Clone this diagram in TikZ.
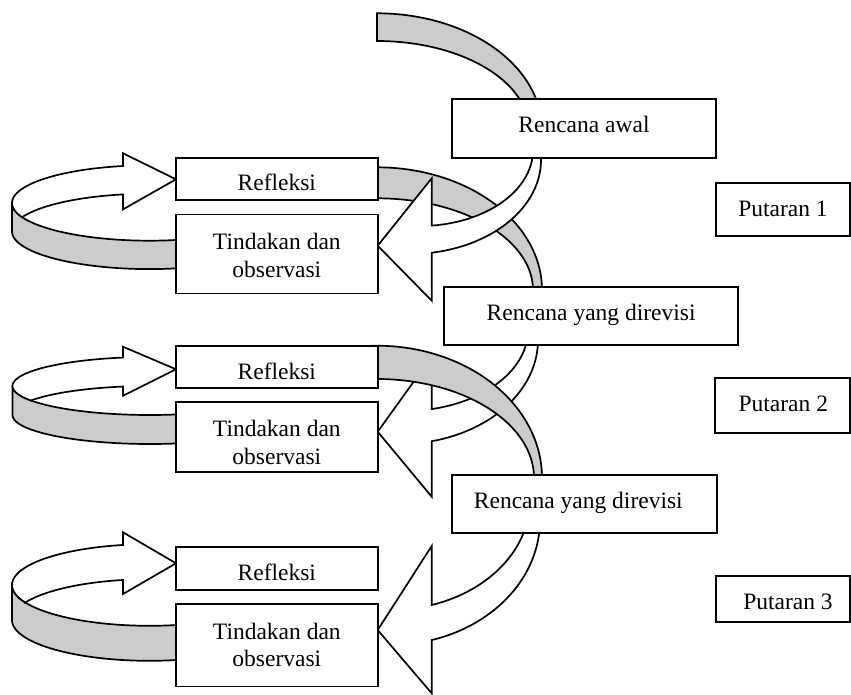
\documentclass[tikz,border=0pt]{standalone}
\usepackage{fontspec}
\setmainfont{Liberation Serif}
\definecolor{ribbon}{RGB}{204,204,204}
\begin{document}
\begin{tikzpicture}[x=1pt,y=-1pt,line width=1.7pt,samples=60,
  box/.style={draw,fill=white,inner sep=0pt},
  lbl/.style={anchor=base,inner sep=0pt,font=\fontsize{23.5}{27.6}\selectfont},
  lbltwo/.style={anchor=north,align=center,inner sep=0pt,font=\fontsize{23.5}{27.6}\selectfont},
  band/.style={draw,fill=ribbon},
  wband/.style={draw,fill=white}]
\useasboundingbox (0,0) rectangle (851,695);

% big grey bands
\path[band] plot[domain=270:355] ({377+165*cos(\x)},{130+116.7*sin(\x)})
  -- plot[domain=355:270] ({377+152*cos(\x)},{130+89*sin(\x)}) -- cycle;
\path[band] plot[domain=265:365] ({377+165*cos(\x)},{290+122.7*sin(\x)})
  -- plot[domain=365:265] ({377+156*cos(\x)},{290+91.7*sin(\x)}) -- cycle;
% white curved arrow 1
\path[wband] plot[domain=-5:80.47] ({410+131*cos(\x)},{160+94*sin(\x)})
  -- (431.7,300.7) -- (377.7,245.7) -- (431.7,178.3)
  -- plot[domain=84.06:0] ({420+113*cos(\x)},{150+76*sin(\x)}) -- cycle;
% white curved arrow 2
\path[wband] plot[domain=-5:76.72] ({400+138*cos(\x)},{340+104*sin(\x)})
  -- (431.7,496.7) -- (377.7,431.7) -- (431.7,356.6)
  -- plot[domain=77.46:0] ({405+123*cos(\x)},{330+81*sin(\x)}) -- cycle;
% grey band 2
\path[band] plot[domain=265:365] ({377+165*cos(\x)},{478+132.3*sin(\x)})
  -- plot[domain=365:265] ({377+157*cos(\x)},{478+99*sin(\x)}) -- cycle;
% white curved arrow 3
\path[wband] plot[domain=-5:73.86] ({390+150*cos(\x)},{520+125*sin(\x)})
  -- (431.7,693.3) -- (377.7,630) -- (431.7,546)
  -- plot[domain=72.67:0] ({390+140*cos(\x)},{500+110*sin(\x)}) -- cycle;

% left loops
\path[band] plot[domain=70:180] ({149.5+137.5*cos(\x)},{203+37.7*sin(\x)})
  -- plot[domain=180:70] ({149.5+137.5*cos(\x)},{231.4+37.7*sin(\x)}) -- cycle;
\path[wband] plot[domain=157.87:258.9] ({149.5+137.5*cos(\x)},{203+37.7*sin(\x)})
  -- (123,153.3) -- (176,179.3) -- (123,209.4)
  -- plot[domain=258.9:202.13] ({149.5+137.5*cos(\x)},{231.4+37.7*sin(\x)}) -- cycle;

\path[band] plot[domain=70:180] ({150+137.5*cos(\x)},{386+29*sin(\x)})
  -- plot[domain=180:70] ({150+137.5*cos(\x)},{415+29*sin(\x)}) -- cycle;
\path[wband] plot[domain=150:258.67] ({150+137.5*cos(\x)},{386+29*sin(\x)})
  -- (123,346.7) -- (176,369.3) -- (123,395.7)
  -- plot[domain=258.67:210] ({150+137.5*cos(\x)},{415+29*sin(\x)}) -- cycle;

\path[band] plot[domain=70:180] ({149.5+137.5*cos(\x)},{585+40.8*sin(\x)})
  -- plot[domain=180:70] ({149.5+137.5*cos(\x)},{620+40.8*sin(\x)}) -- cycle;
\path[wband] plot[domain=154.6:258.9] ({149.5+137.5*cos(\x)},{585+40.8*sin(\x)})
  -- (123,532.3) -- (176,563.3) -- (123,594)
  -- plot[domain=258.9:205.4] ({149.5+137.5*cos(\x)},{620+40.8*sin(\x)}) -- cycle;

% boxes
\node[box,minimum width=264,minimum height=58.4] (ra) at (584,128.5) {};
\node[box,minimum width=134,minimum height=52.4] (p1) at (783,209.5) {};
\node[box,minimum width=294.3,minimum height=57.7] (rr1) at (591.15,316.15) {};
\node[box,minimum width=201.7,minimum height=42.3] (rf1) at (276.85,178.85) {};
\node[box,minimum width=201.7,minimum height=79] (td1) at (276.85,254) {};
\node[box,minimum width=201.7,minimum height=42.6] (rf2) at (276.85,367) {};
\node[box,minimum width=201.7,minimum height=70] (td2) at (276.85,437) {};
\node[box,minimum width=135,minimum height=55] (p2) at (782.5,405.8) {};
\node[box,minimum width=264.4,minimum height=57.7] (rr2) at (584.5,503.85) {};
\node[box,minimum width=201.7,minimum height=43.3] (rf3) at (276.85,568.35) {};
\node[box,minimum width=201.7,minimum height=82.2] (td3) at (276.85,645.4) {};
\node[box,minimum width=134,minimum height=46.6] (p3) at (783,599) {};

% labels
\node[lbl] (tra) at (584,132.6) {Rencana awal};
\node[lbl] (tp1) at (783,216.6) {Putaran 1};
\node[lbl] (trr1) at (591.15,320.6) {Rencana yang direvisi};
\node[lbl] (trf1) at (276.85,191) {Refleksi};
\node[lbltwo] (ttd1) at (276.85,232.25) {Tindakan dan\\observasi};
\node[lbl] (trf2) at (276.85,379) {Refleksi};
\node[lbltwo] (ttd2) at (276.85,419.75) {Tindakan dan\\observasi};
\node[lbl] (tp2) at (783.3,411.6) {Putaran 2};
\node[lbl] (trr2) at (578.3,508.3) {Rencana yang direvisi};
\node[lbl] (trf3) at (276.85,580) {Refleksi};
\node[lbltwo] (ttd3) at (276.85,622.05) {Tindakan dan\\observasi};
\node[lbl] (tp3) at (788,609) {Putaran 3};
\end{tikzpicture}
\end{document}
